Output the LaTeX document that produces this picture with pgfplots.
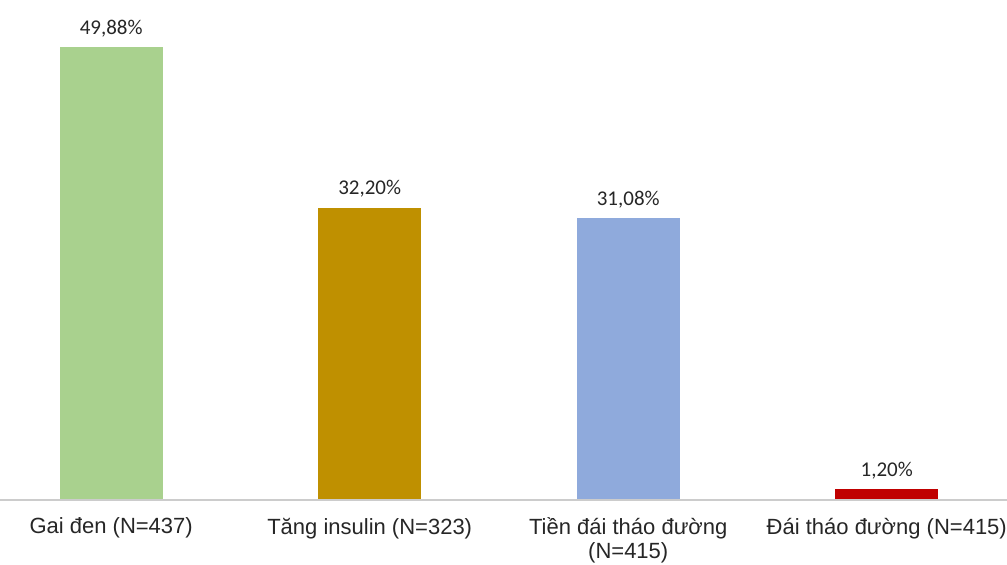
\documentclass[border=0pt]{standalone}
\usepackage{fontspec}
\setmainfont{Liberation Sans}
\newfontfamily\calfont{Carlito}
\usepackage{pgfplots}
\usepackage{pgfplotstable}
\pgfplotsset{compat=1.18}
\definecolor{cgreen}{HTML}{A9D18E}
\definecolor{cgold}{HTML}{BF9000}
\definecolor{cblue}{HTML}{8FAADC}
\definecolor{cred}{HTML}{C00000}
\pgfplotstableread{
x y lab
0 49.88 {49,88\%}
}\tga
\pgfplotstableread{
x y lab
1 32.20 {32,20\%}
}\tgb
\pgfplotstableread{
x y lab
2 31.08 {31,08\%}
}\tgc
\pgfplotstableread{
x y lab
3 1.20 {1,20\%}
}\tgd
\begin{document}
\begin{tikzpicture}
\useasboundingbox (0,0) rectangle (503.5pt,282.5pt);
\begin{axis}[
  at={(0pt,32.5pt)}, anchor=south west,
  scale only axis, width=503.5pt, height=250pt,
  xmin=-0.43, xmax=3.465, ymin=0, ymax=55.07,
  axis line style={draw=none},
  ytick=\empty,
  xtick={0,1,2,3},
  xticklabels={Gai đen (N=437),Tăng insulin (N=323),{Tiền đái tháo đường\\(N=415)},Đái tháo đường (N=415)},
  xticklabel style={font=\fontsize{11pt}{12pt}\selectfont, align=center, text=black!85, yshift=-5.5pt},
  major tick length=0pt,
  ybar, bar width=51.5pt, bar shift=0pt,
  nodes near coords,
  point meta=explicit symbolic,
  every node near coord/.append style={font=\calfont\fontsize{10.5pt}{12pt}\selectfont, text=black!85, anchor=south, yshift=1.5pt},
  clip=false,
]
\addplot[fill=cgreen, draw=none] table[x=x,y=y,meta=lab]{\tga};
\addplot[fill=cgold, draw=none] table[x=x,y=y,meta=lab]{\tgb};
\addplot[fill=cblue, draw=none] table[x=x,y=y,meta=lab]{\tgc};
\addplot[fill=cred, draw=none] table[x=x,y=y,meta=lab]{\tgd};
\draw[black!20, line width=0.8pt] (rel axis cs:0,0) -- (rel axis cs:1,0);
\end{axis}
\end{tikzpicture}
\end{document}
